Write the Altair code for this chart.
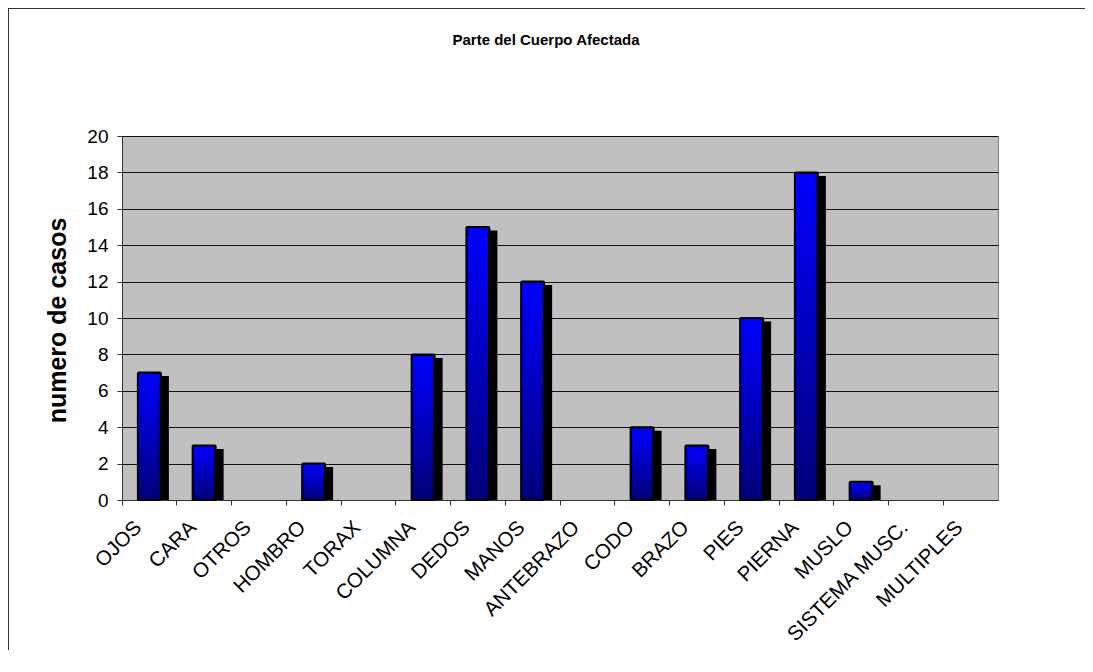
import altair as alt
import pandas as pd

categories = ["OJOS", "CARA", "OTROS", "HOMBRO", "TORAX", "COLUMNA", "DEDOS", "MANOS",
              "ANTEBRAZO", "CODO", "BRAZO", "PIES", "PIERNA", "MUSLO", "SISTEMA MUSC.", "MULTIPLES"]
values = [7, 3, 0, 2, 0, 8, 15, 12, 0, 4, 3, 10, 18, 1, 0, 0]
y_ticks = [0, 2, 4, 6, 8, 10, 12, 14, 16, 18, 20]

df = pd.DataFrame({"parte": categories, "casos": values})
FONT = "Liberation Sans"

x_enc = alt.X("parte:N", sort=categories,
              scale=alt.Scale(domain=categories, paddingInner=0, paddingOuter=0),
              axis=alt.Axis(title=None, labelAngle=-45, labelAlign="right", labelBaseline="middle",
                            labelFontSize=20.5, labelFont=FONT, labelColor="black", labelPadding=19,
                            labelOffset=-11,
                            tickSize=5, tickColor="#333", domainColor="#333", bandPosition=0,
                            grid=False, labelOverlap=False))
y_enc = alt.Y("casos:Q", scale=alt.Scale(domain=[0, 20], nice=False),
              axis=alt.Axis(values=y_ticks, title="numero de casos", titleFontSize=25,
                            titleFont=FONT, titleFontWeight="bold", titleColor="black",
                            titleAngle=-90, titleX=-65, titleY=184, titleAlign="center",
                            titleBaseline="middle",
                            labelFontSize=19, labelFont=FONT, labelColor="black", labelPadding=9,
                            tickSize=5, tickColor="#333", domainColor="#333",
                            grid=True, gridColor="#111", gridOpacity=1, gridWidth=1))

base = alt.Chart(df).transform_filter("datum.casos > 0")

shadow = base.mark_bar(color="black", width=25, xOffset=7, yOffset=3.5, clip=True).encode(
    x=x_enc, y=y_enc)

gradient = alt.LinearGradient(gradient="linear",
                              stops=[alt.GradientStop(color="#0000FF", offset=0),
                                     alt.GradientStop(color="#000078", offset=1)],
                              x1=0, x2=0, y1=0, y2=1)
bars = base.mark_bar(color=gradient, stroke="black", strokeWidth=2, width=23,
                     cornerRadius=1).encode(x=x_enc, y=y_enc)

border = alt.Chart(pd.DataFrame({"k": [0]})).mark_rect(
    fill="transparent", stroke="#333", strokeWidth=2).encode(
    x=alt.value(-114), x2=alt.value(1200), y=alt.value(-128), y2=alt.value(900))

chart = alt.layer(shadow, bars, border).properties(
    width=876, height=364,
    background="white",
    title=alt.TitleParams("Parte del Cuerpo Afectada", fontSize=15, font=FONT,
                          fontWeight="bold", color="black", anchor="middle", dx=-14,
                          baseline="alphabetic", offset=-53),
    autosize=alt.AutoSizeParams(type="none"),
    padding={"left": 114, "top": 128, "right": 87, "bottom": 150},
).configure_view(fill="#C0C0C0", stroke="#808080", strokeWidth=1)

chart.save("out.html", embed_options={"renderer": "svg", "actions": False})
